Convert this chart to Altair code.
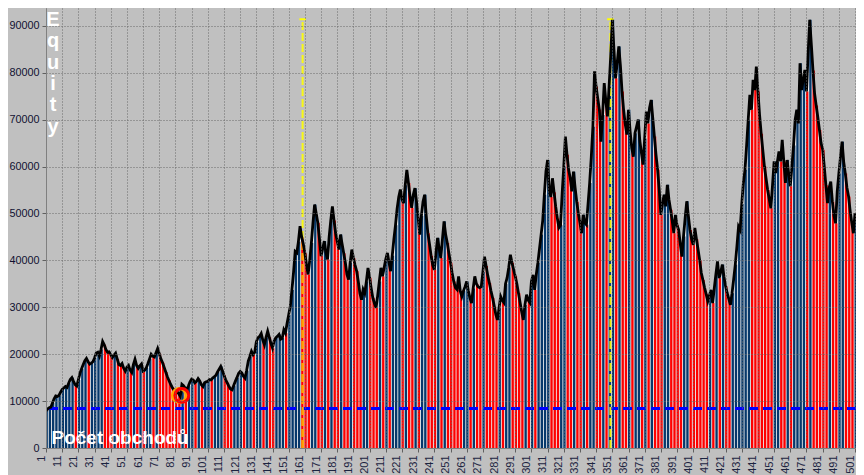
import altair as alt
import pandas as pd

# Equity after each trade, in thousands
equity_k = [
    7.9, 8.3, 8.6, 8.7, 9.6, 10.5, 11.1, 11.0, 11.2, 11.9,
    12.5, 12.8, 13.1, 12.9, 13.8, 14.6, 15.0, 14.2, 13.5, 13.2,
    14.5, 15.9, 16.9, 17.8, 18.6, 19.1, 18.4, 17.9, 18.1, 18.4,
    19.2, 20.2, 20.4, 19.6, 21.0, 22.7, 22.0, 21.0, 20.4, 20.5,
    19.9, 19.3, 19.8, 20.2, 19.0, 17.8, 17.6, 18.0, 17.0, 16.4,
    17.2, 17.6, 16.6, 16.1, 17.8, 18.9, 17.6, 17.0, 17.5, 17.9,
    16.4, 16.6, 17.1, 18.0, 19.0, 20.0, 19.6, 19.4, 20.3, 21.2,
    20.1, 19.0, 18.2, 17.2, 16.2, 15.2, 14.4, 13.6, 12.9, 12.4,
    11.9, 12.0, 11.6, 11.0, 13.6, 13.3, 12.8, 12.4, 13.2, 14.1,
    14.7, 14.5, 13.9, 14.2, 14.8, 14.3, 13.5, 13.1, 13.9, 14.1,
    14.2, 14.6, 14.5, 14.9, 15.2, 15.5, 16.2, 16.8, 17.4, 16.5,
    15.5, 14.6, 13.9, 13.2, 12.6, 12.4, 13.3, 14.2, 15.0, 15.9,
    16.3, 16.0, 15.3, 14.9, 16.5, 18.5, 19.5, 20.6, 19.9, 20.4,
    22.6, 23.5, 23.8, 24.4, 23.0, 22.0, 23.6, 24.9, 23.6, 22.3,
    21.3, 22.8, 23.5, 23.8, 24.2, 23.2, 23.4, 25.2, 24.5, 26.6,
    28.4, 30.2, 33.7, 37.5, 41.9, 41.6, 44.0, 47.3, 45.0, 43.5,
    41.5, 39.0, 37.0, 40.0, 43.7, 48.0, 51.9, 50.0, 48.0, 44.5,
    40.9, 42.5, 44.1, 41.6, 40.2, 45.0, 48.5, 51.5, 48.5, 45.8,
    44.0, 42.3, 45.5, 43.5, 41.5, 39.5, 37.0, 35.9, 39.5, 42.3,
    40.5, 39.0, 37.7, 35.5, 33.0, 31.6, 33.8, 33.0, 35.5, 38.4,
    36.3, 34.0, 32.0, 30.8, 29.9, 32.5, 35.5, 38.4, 36.6, 38.5,
    40.3, 41.6, 39.5, 37.7, 41.0, 44.5, 47.5, 51.0, 53.5, 55.1,
    53.0, 52.2, 56.0, 59.3, 56.5, 53.5, 51.2, 54.0, 55.4, 52.5,
    49.0, 45.5, 49.5, 52.5, 54.0, 49.5, 45.8, 43.5, 41.0, 39.0,
    38.0, 41.5, 44.8, 42.5, 40.5, 44.5, 48.3, 45.5, 43.7, 41.5,
    39.5, 37.3, 35.5, 34.2, 33.8, 36.6, 33.5, 32.3, 33.5, 34.4,
    35.5, 33.5, 32.0, 30.9, 34.0, 36.6, 35.0, 34.4, 34.2, 34.4,
    37.5, 40.8, 38.8, 36.8, 35.2, 33.5, 32.0, 30.3, 28.5, 27.3,
    29.8, 32.3, 31.5, 31.0, 35.0, 36.3, 38.5, 41.2, 39.5, 38.0,
    36.6, 35.0, 33.0, 31.0, 29.0, 27.3, 30.5, 32.7, 31.5, 31.0,
    35.5, 36.9, 33.7, 37.0, 39.5, 42.5, 45.5, 48.5, 54.0, 59.0,
    61.4, 55.0, 53.5, 57.5, 54.5, 51.5, 49.0, 47.0, 47.5, 54.3,
    60.0, 66.4, 62.5, 59.3, 57.5, 54.7, 58.9, 55.5, 52.5, 50.0,
    48.0, 45.8, 49.7, 48.0, 47.6, 52.0, 56.5, 62.0, 68.5, 80.3,
    77.0, 74.5, 72.1, 65.3, 71.0, 77.8, 74.0, 70.7, 77.0, 83.5,
    91.3, 85.0, 78.8, 82.0, 85.6, 81.5, 76.0, 72.0, 69.0, 66.8,
    72.1, 67.5, 64.0, 62.1, 67.1, 68.5, 70.0, 65.5, 62.9, 60.4,
    66.0, 71.7, 69.2, 72.5, 74.2, 70.3, 66.4, 62.5, 59.3, 55.0,
    49.7, 52.0, 54.0, 51.5, 56.1, 53.0, 50.8, 48.5, 45.8, 49.7,
    47.5, 46.5, 43.5, 40.8, 45.1, 49.0, 52.6, 49.5, 46.5, 44.5,
    43.3, 46.9, 44.5, 42.3, 40.0, 37.3, 35.8, 34.2, 32.8, 31.3,
    32.5, 33.7, 30.9, 34.0, 37.0, 39.8, 36.2, 37.5, 39.1, 36.5,
    34.5, 33.0, 31.8, 30.5, 33.0, 36.0, 39.1, 43.0, 47.2, 46.5,
    52.0, 56.5, 59.3, 64.5, 70.0, 75.3, 72.1, 78.5, 76.3, 81.3,
    76.0, 71.0, 67.0, 63.5, 60.0, 57.5, 55.0, 53.0, 51.1, 56.0,
    61.1, 58.6, 61.0, 63.2, 61.1, 65.7, 61.0, 56.5, 61.4, 58.5,
    55.8, 60.0, 64.5, 70.0, 72.1, 69.2, 82.0, 76.3, 78.5, 80.6,
    76.0, 84.0, 91.3, 86.0, 80.5, 75.6, 73.0, 70.5, 67.8, 65.0,
    63.6, 60.0, 56.0, 52.2, 55.5, 56.8, 52.5, 49.5, 47.9, 54.7,
    58.5, 62.0, 65.3, 61.0, 58.5, 55.5, 53.6, 50.5, 48.0, 45.8, 50.1,
]

x_tick_values = list(range(1, 502, 10))
y_tick_values = list(range(0, 90001, 10000))
marker_trade = [84.3]
marker_value = [11200]
vline_trade = [159.6, 349.8]
vline_top = [91400, 91400]
low_segment_trade = [159.6]
low_segment_top = [44400]
ref_level = [8400]
equity_letters = ["E", "q", "u", "i", "t", "y"]
bottom_label = ["Počet obchodů"]

trades = list(range(1, len(equity_k) + 1))
equity = [round(v * 1000) for v in equity_k]
prev = [equity[0]] + equity[:-1]
result = ["win" if e >= p else "loss" for e, p in zip(equity, prev)]
df = pd.DataFrame({"trade": trades, "equity": equity, "result": result})

FONT = "Liberation Sans"
xs = alt.Scale(domain=[1, 501.6], nice=False, zero=False)
ys = alt.Scale(domain=[0, 93800], nice=False, zero=False)

axis_x = alt.Axis(
    values=x_tick_values, format="d", labelAngle=270, labelFont=FONT,
    labelFontSize=11, labelColor="#1c2440", labelOffset=-5, labelPadding=3,
    tickSize=4, tickColor="#606060", domainColor="#808080",
    grid=True, gridColor="#6a6a6a", gridDash=[1, 2], title=None,
    labelOverlap=False, labelFlush=False, zindex=1,
)
axis_y = alt.Axis(
    values=y_tick_values, format="d", labelFont=FONT, labelFontSize=10.8,
    labelColor="#101030", tickSize=4, tickColor="#606060", labelPadding=3,
    domainColor="#808080", grid=True, gridColor="#6a6a6a", gridDash=[1, 2],
    title=None, labelFlush=False, zindex=1,
)


def X(field):
    return alt.X(field, scale=xs, axis=axis_x)


def Y(field):
    return alt.Y(field, scale=ys, axis=axis_y)


base = alt.Chart(df)

area = base.mark_area(color="#ececec", clip=True).encode(x=X("trade:Q"), y=Y("equity:Q"))

bars = (
    base.transform_filter("datum.trade % 2 == 1")
    .transform_calculate(x0="datum.trade - 0.3", x1="datum.trade + 1.15")
    .mark_bar(clip=True)
    .encode(
        x=X("x0:Q"),
        x2="x1:Q",
        y=Y("equity:Q"),
        y2=alt.datum(0),
        color=alt.Color("result:N", scale=alt.Scale(domain=["win", "loss"], range=["#06386b", "#ff0000"]), legend=None),
    )
)

hline = alt.Chart(pd.DataFrame({"level": ref_level})).mark_rule(
    color="#0000ff", strokeWidth=3, strokeDash=[9, 5]
).encode(y=Y("level:Q"))

vdf = pd.DataFrame({"trade": vline_trade, "top": vline_top, "bottom": [0] * len(vline_trade)})
vlines = alt.Chart(vdf).mark_rule(color="#ffff00", strokeWidth=2, strokeDash=[8, 3], opacity=0.9).encode(
    x=X("trade:Q"), y=Y("bottom:Q"), y2="top:Q"
)
ldf = pd.DataFrame({"trade": low_segment_trade, "top": low_segment_top, "bottom": [0] * len(low_segment_trade)})
vlow = alt.Chart(ldf).mark_rule(color="#ff9a00", strokeWidth=2, strokeDash=[8, 3]).encode(
    x=X("trade:Q"), y=Y("bottom:Q"), y2="top:Q"
)
caps = (
    alt.Chart(vdf)
    .transform_calculate(a="datum.trade - 2", b="datum.trade + 2")
    .mark_rule(color="#ffff00", strokeWidth=2)
    .encode(x=X("a:Q"), x2="b:Q", y=Y("top:Q"))
)

line = base.mark_line(color="black", strokeWidth=2.8, clip=True).encode(x=X("trade:Q"), y=Y("equity:Q"))

mdf = pd.DataFrame({"trade": marker_trade, "equity": marker_value})
ring_o = alt.Chart(mdf).mark_point(shape="circle", filled=False, size=190, stroke="#ffa500", strokeWidth=3, xOffset=-1.5, opacity=1).encode(
    x=X("trade:Q"), y=Y("equity:Q"))
ring_r = alt.Chart(mdf).mark_point(shape="circle", filled=False, size=190, stroke="#ff0000", strokeWidth=3, xOffset=1, opacity=1).encode(
    x=X("trade:Q"), y=Y("equity:Q"))

t_equity = alt.Chart(pd.DataFrame({"t": ["\n".join(equity_letters)]})).mark_text(
    lineBreak="\n", lineHeight=21.3, align="center", baseline="alphabetic",
    fontSize=20, fontWeight="bold", font=FONT, color="white",
).encode(text="t:N", x=alt.value(7), y=alt.value(18))

t_bottom = alt.Chart(pd.DataFrame({"t": bottom_label})).mark_text(
    align="left", baseline="alphabetic", fontSize=19, fontWeight="bold", font=FONT, color="white",
).encode(text="t:N", x=alt.value(5.5), y=alt.value(435.5))

chart = (
    alt.layer(area, bars, hline, vlines, vlow, caps, line, ring_o, ring_r, t_equity, t_bottom)
    .properties(
        width=810, height=440,
        padding={"left": 38, "top": 0, "right": 0, "bottom": 27},
        autosize=alt.AutoSizeParams(type="none"),
        background="#c0c0c0",
    )
    .configure_view(stroke=None)
)

chart.save("out.html", embed_options={"renderer": "svg", "actions": False})
